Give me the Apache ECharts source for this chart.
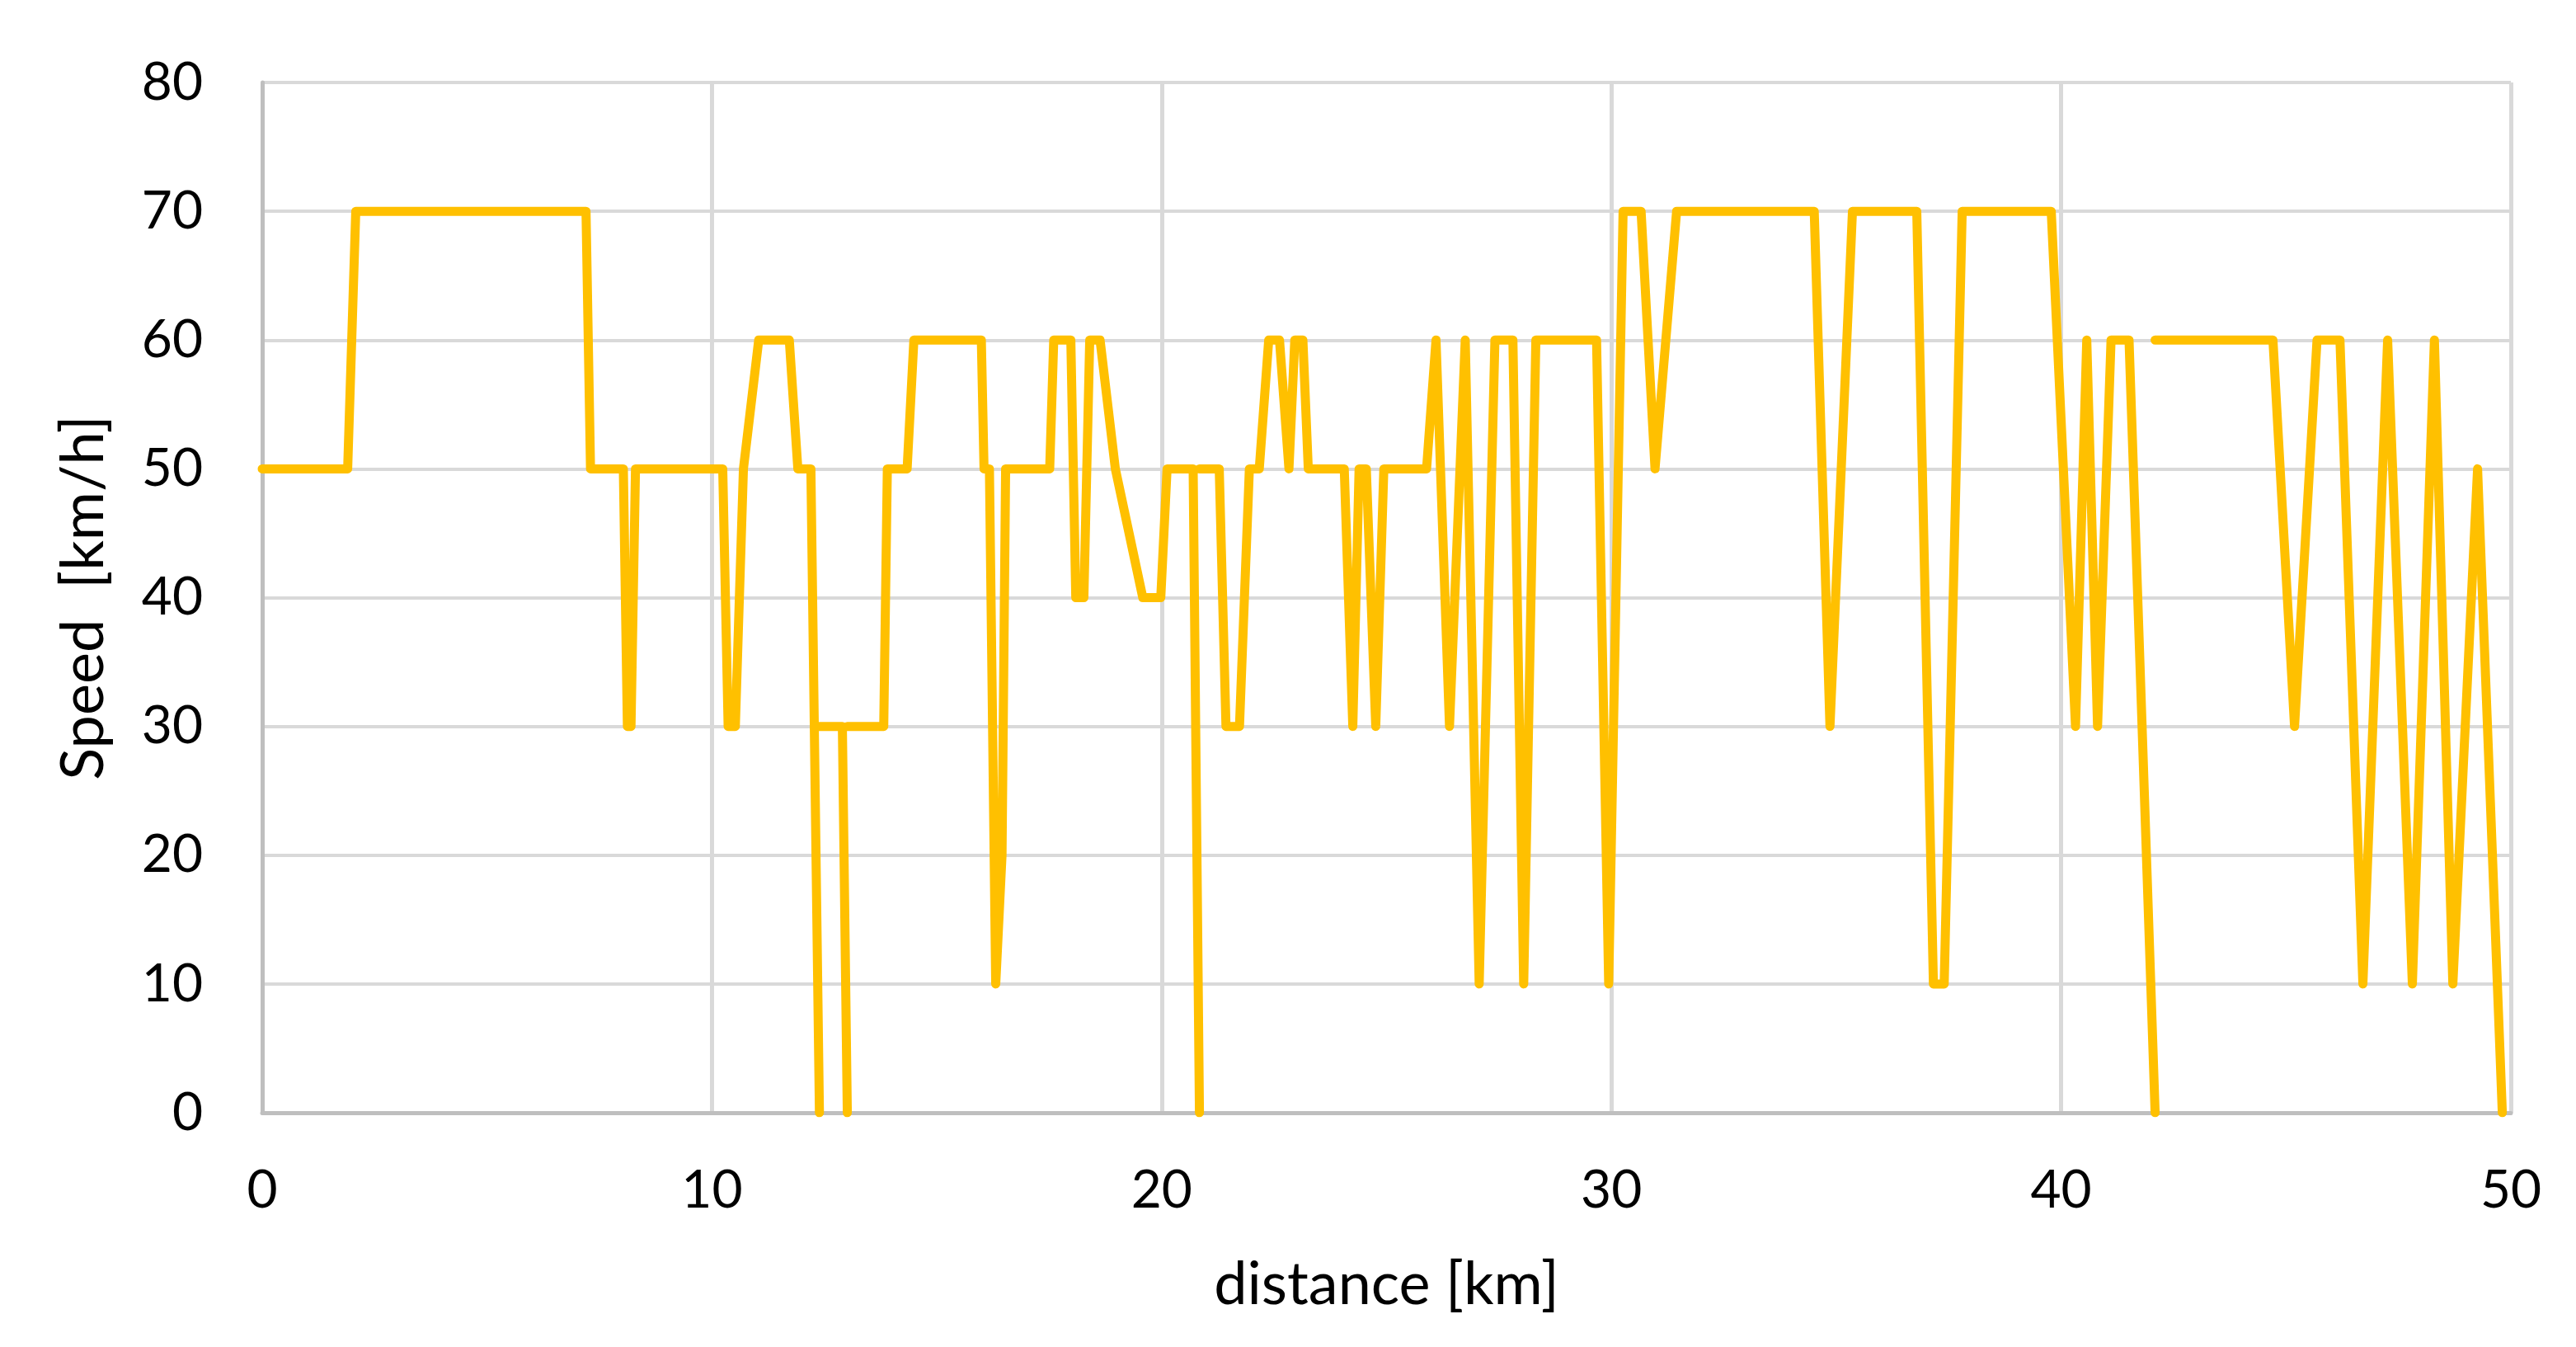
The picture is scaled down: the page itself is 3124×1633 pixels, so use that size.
<!DOCTYPE html>
<html>
<head>
<meta charset="utf-8">
<script src="https://cdn.jsdelivr.net/npm/echarts@6/dist/echarts.min.js"></script>
<style>
  html, body { margin: 0; padding: 0; background: #fff; }
  #chart { width: 3124px; height: 1633px; }
</style>
</head>
<body>
<div id="chart"></div>
<script>
  // distance [km] and speed [km/h]; null speed = break in the line
  const distance = [
    0, 1.9, 2.08, 7.2, 7.3, 8.03, 8.12, 8.2, 8.3, 10.24,
    10.36, 10.52, 10.7, 11.04, 11.72, 11.91, 12.2, 12.39, 12.39, 12.39,
    12.9, 13.01, 13.01, 13.01, 13.82, 13.9, 14.34, 14.49, 15.99, 16.05,
    16.17, 16.31, 16.45, 16.53, 17.51, 17.6, 17.98, 18.09, 18.27, 18.4,
    18.63, 18.97, 19.58, 19.98, 20.12, 20.7, 20.84, 20.84, 20.84, 21.28,
    21.43, 21.73, 21.95, 22.17, 22.38, 22.62, 22.83, 22.96, 23.14, 23.26,
    24.06, 24.25, 24.39, 24.55, 24.76, 24.94, 25.89, 26.1, 26.4, 26.75,
    27.06, 27.41, 27.81, 28.05, 28.32, 29.67, 29.94, 30.26, 30.66, 30.97,
    31.45, 34.51, 34.86, 35.36, 36.79, 37.16, 37.4, 37.8, 39.78, 40.32,
    40.57, 40.81, 41.11, 41.51, 42.09, 42.09, 42.09, 44.71, 45.19, 45.69,
    46.2, 46.71, 47.26, 47.81, 48.3, 48.71, 49.26, 49.81
  ];
  const speed = [
    50, 50, 70, 70, 50, 50, 30, 30, 50, 50,
    30, 30, 50, 60, 60, 50, 50, 0, null, 30,
    30, 0, null, 30, 30, 50, 50, 60, 60, 50,
    50, 10, 20, 50, 50, 60, 60, 40, 40, 60,
    60, 50, 40, 40, 50, 50, 0, null, 50, 50,
    30, 30, 50, 50, 60, 60, 50, 60, 60, 50,
    50, 30, 50, 50, 30, 50, 50, 60, 30, 60,
    10, 60, 60, 10, 60, 60, 10, 70, 70, 50,
    70, 70, 30, 70, 70, 10, 10, 70, 70, 30,
    60, 30, 60, 60, 0, null, 60, 60, 30, 60,
    60, 10, 60, 10, 60, 10, 50, 0
  ];
  const xTicks = [0, 10, 20, 30, 40, 50];
  const yTicks = [0, 10, 20, 30, 40, 50, 60, 70, 80];

  const points = distance.map((d, i) => [d, speed[i] === null ? '-' : speed[i]]);

  const chart = echarts.init(document.getElementById('chart'));
  const font = 'Lato, "Open Sans", sans-serif';

  chart.setOption({
    animation: false,
    backgroundColor: '#ffffff',
    grid: {
      left: 318,
      right: 79,
      top: 100,
      bottom: 284
    },
    xAxis: {
      type: 'value',
      min: xTicks[0],
      max: xTicks[xTicks.length - 1],
      interval: 10,
      name: 'distance [km]',
      nameLocation: 'middle',
      nameGap: 173,
      nameTextStyle: { fontFamily: font, fontSize: 72, color: '#000' },
      axisLine: { show: true, lineStyle: { color: '#bfbfbf', width: 5 } },
      axisTick: { show: false },
      axisLabel: { fontFamily: font, fontSize: 64, color: '#000', margin: 62 },
      splitLine: { show: true, lineStyle: { color: '#d9d9d9', width: 5 } }
    },
    yAxis: {
      type: 'value',
      min: yTicks[0],
      max: yTicks[yTicks.length - 1],
      interval: 10,
      name: 'Speed  [km/h]',
      nameLocation: 'middle',
      nameGap: 180,
      nameTextStyle: { fontFamily: font, fontSize: 72, color: '#000' },
      axisLine: { show: true, lineStyle: { color: '#bfbfbf', width: 5 } },
      axisTick: { show: false },
      axisLabel: { fontFamily: font, fontSize: 64, color: '#000', margin: 72 },
      splitLine: { show: true, lineStyle: { color: '#d9d9d9', width: 4 } }
    },
    series: [{
      type: 'line',
      data: points,
      showSymbol: false,
      connectNulls: false,
      lineStyle: { color: '#ffc000', width: 11, cap: 'round', join: 'round' }
    }]
  });
</script>
</body>
</html>
